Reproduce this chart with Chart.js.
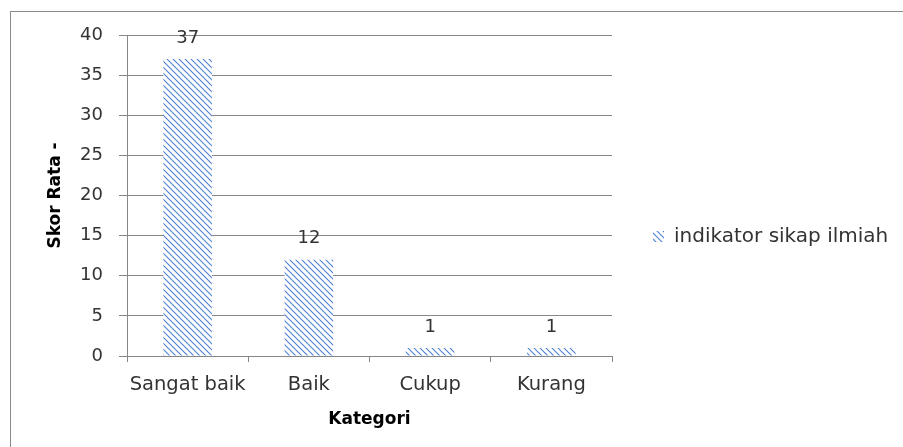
<!DOCTYPE html>
<html>
<head>
<meta charset="utf-8">
<script src="https://cdn.jsdelivr.net/npm/chart.js@4.4.1/dist/chart.umd.min.js"></script>
<style>
html,body{margin:0;padding:0;background:#fff;}
#wrap{width:903px;height:447px;position:relative;}
</style>
</head>
<body>
<div id="wrap"><canvas id="c" width="903" height="447"></canvas></div>
<script>
const categories = ["Sangat baik", "Baik", "Cukup", "Kurang"];
const seriesName = "indikator sikap ilmiah";
const values = [37, 12, 1, 1];
const yTicks = [0, 5, 10, 15, 20, 25, 30, 35, 40];
const xTitle = "Kategori";
const yTitle = "Skor Rata -";

function hatch() {
  const s = 6;
  const c = document.createElement('canvas');
  c.width = s; c.height = s;
  const x = c.getContext('2d');
  x.fillStyle = '#ffffff';
  x.fillRect(0, 0, s, s);
  x.strokeStyle = '#4f7fd6';
  x.lineWidth = 1.1;
  x.beginPath();
  x.moveTo(-1, -1); x.lineTo(s + 1, s + 1);
  x.moveTo(-1, s - 1); x.lineTo(1, s + 1);
  x.moveTo(s - 1, -1); x.lineTo(s + 1, 1);
  x.stroke();
  return x.createPattern(c, 'repeat');
}

const FONT = "'DejaVu Sans', sans-serif";
const TXT = '#333333';
const GRID = '#878787';

const frame = {
  id: 'frame',
  beforeDraw(chart) {
    const ctx = chart.ctx;
    ctx.save();
    ctx.fillStyle = '#fff';
    ctx.fillRect(0, 0, chart.width, chart.height);
    ctx.strokeStyle = '#8a8a8a';
    ctx.lineWidth = 1;
    ctx.strokeRect(10.5, 11.5, 1000, 1000);
    ctx.restore();
  }
};

const valueLabels = {
  id: 'valueLabels',
  afterDatasetsDraw(chart) {
    const ctx = chart.ctx;
    const meta = chart.getDatasetMeta(0);
    ctx.save();
    ctx.font = "18px " + FONT;
    ctx.fillStyle = TXT;
    ctx.textAlign = 'center';
    ctx.textBaseline = 'middle';
    meta.data.forEach((bar, i) => {
      ctx.fillText(String(chart.data.datasets[0].data[i]), bar.x, bar.y - 21);
    });
    ctx.restore();
  }
};

new Chart(document.getElementById('c'), {
  type: 'bar',
  data: {
    labels: categories,
    datasets: [{
      label: seriesName,
      data: values,
      backgroundColor: hatch(),
      borderWidth: 0,
      categoryPercentage: 1.0,
      barPercentage: 0.4
    }]
  },
  options: {
    responsive: false,
    animation: false,
    devicePixelRatio: 1,
    layout: { padding: { left: 45, top: 35, bottom: 9, right: 12 } },
    plugins: {
      tooltip: { enabled: false },
      legend: {
        position: 'right',
        align: 'center',
        maxWidth: 279,
        labels: {
          boxWidth: 11,
          boxHeight: 11,
          padding: 41,
          color: TXT,
          font: { family: FONT, size: 20 }
        }
      }
    },
    scales: {
      x: {
        grid: { offset: true, drawOnChartArea: false, tickLength: 6, color: GRID },
        border: { color: GRID },
        ticks: { color: TXT, padding: 11, maxRotation: 0, minRotation: 0, autoSkip: false, font: { family: FONT, size: 19.5 } },
        title: { display: true, text: xTitle, color: '#000', font: { family: FONT, size: 17, weight: 'bold' }, padding: { top: 0, bottom: 8 } },
        afterFit(scale) { scale.height = 82; }
      },
      y: {
        min: 0, max: 40,
        afterBuildTicks(scale) { scale.ticks = yTicks.map(v => ({ value: v })); },
        grid: { color: GRID, tickLength: 8 },
        border: { color: GRID },
        ticks: { color: TXT, padding: 16, font: { family: FONT, size: 18 } },
        title: { display: true, text: yTitle, color: '#000', font: { family: FONT, size: 17, weight: 'bold' }, padding: { top: 0, bottom: 0 } },
        afterFit(scale) { scale.width = 82; }
      }
    }
  },
  plugins: [frame, valueLabels]
});
</script>
</body>
</html>
